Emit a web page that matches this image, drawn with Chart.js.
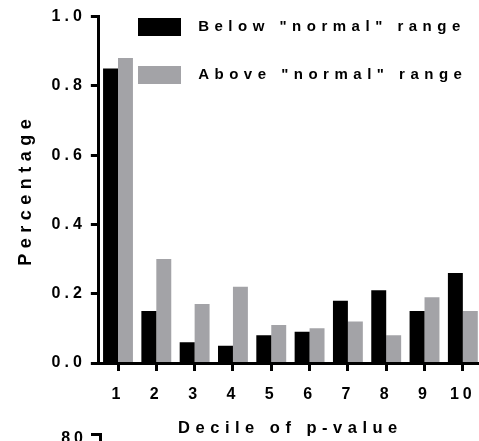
<!DOCTYPE html>
<html>
<head>
<meta charset="utf-8">
<script src="https://cdn.jsdelivr.net/npm/chart.js@4.4.1/dist/chart.umd.min.js"></script>
<style>
  html, body { margin: 0; padding: 0; background: #fff; overflow: hidden; }
  #wrap { position: relative; width: 500px; height: 441px; }
</style>
</head>
<body>
<div id="wrap"><canvas id="myChart"></canvas></div>
<script>
const deciles = ['1', '2', '3', '4', '5', '6', '7', '8', '9', '10'];
const belowNormal = [0.85, 0.15, 0.06, 0.05, 0.08, 0.09, 0.18, 0.21, 0.15, 0.26];
const aboveNormal = [0.88, 0.30, 0.17, 0.22, 0.11, 0.10, 0.12, 0.08, 0.19, 0.15];
const yTicks = [0, 0.2, 0.4, 0.6, 0.8, 1.0];

const FONT = "'Liberation Sans', Arial, Helvetica, sans-serif";
const bold = size => ({ family: FONT, size: size, weight: 'bold' });

// canvas has no letter-spacing option in Chart.js, so set it on the context
const spacing = {
  id: 'spacing',
  beforeLayout(chart) { chart.ctx.letterSpacing = '4px'; },
  afterLayout(chart) {
    // legend sits inside the plot, top left next to the first decile
    chart.legend.left = 108;
    chart.legend.top = -12;
  },
  beforeDraw(chart) { chart.ctx.letterSpacing = '5.5px'; },
  afterDatasetsDraw(chart) { chart.ctx.letterSpacing = '4px'; },
  afterDraw(chart) {
    // top of the next panel, cut off by the bottom edge
    const ctx = chart.ctx;
    ctx.save();
    ctx.fillStyle = '#000';
    ctx.font = 'bold 16px ' + FONT;
    ctx.textAlign = 'right';
    ctx.textBaseline = 'alphabetic';
    ctx.fillText('80', 87, 443);
    ctx.fillRect(91, 433, 11, 3);
    ctx.fillRect(99, 433, 3, 10);
    ctx.restore();
  }
};

const ctx = document.getElementById('myChart').getContext('2d');

new Chart(ctx, {
  type: 'bar',
  data: {
    labels: deciles,
    datasets: [{
      label: ' Below "normal" range',
      data: belowNormal,
      backgroundColor: '#000000',
      borderWidth: 0
    }, {
      label: ' Above "normal" range',
      data: aboveNormal,
      backgroundColor: '#a3a3a7',
      borderWidth: 0
    }]
  },
  options: {
    responsive: true,
    maintainAspectRatio: false,
    animation: false,
    categoryPercentage: 0.78,
    barPercentage: 1.0,
    layout: { padding: { left: 3, right: 18, top: 16.5, bottom: 1 } },
    plugins: {
      tooltip: { enabled: false },
      legend: {
        position: 'chartArea',
        align: 'start',
        labels: {
          boxWidth: 43,
          boxHeight: 18,
          padding: 30,
          color: '#000',
          font: bold(15)
        }
      }
    },
    scales: {
      x: {
        grid: { offset: false, drawOnChartArea: false, tickLength: 8, tickWidth: 3, tickColor: '#000' },
        border: { color: '#000', width: 3, z: 1 },
        ticks: { color: '#000', font: bold(16), padding: 14, z: 1, maxRotation: 0 },
        title: { display: true, text: 'Decile of p-value', color: '#000', font: bold(16.5), padding: { top: 0, bottom: 2 } }
      },
      y: {
        min: 0,
        max: 1,
        afterBuildTicks(scale) { scale.ticks = yTicks.map(v => ({ value: v })); },
        grid: { drawOnChartArea: false, tickLength: 8, tickWidth: 3, tickColor: '#000' },
        border: { color: '#000', width: 3, z: 1 },
        ticks: { color: '#000', font: bold(16), padding: 5, z: 1, callback: v => v.toFixed(1) },
        title: { display: true, text: 'Percentage', color: '#000', font: bold(18), padding: { top: 12, bottom: 10 } }
      }
    }
  },
  plugins: [spacing]
});
</script>
</body>
</html>
